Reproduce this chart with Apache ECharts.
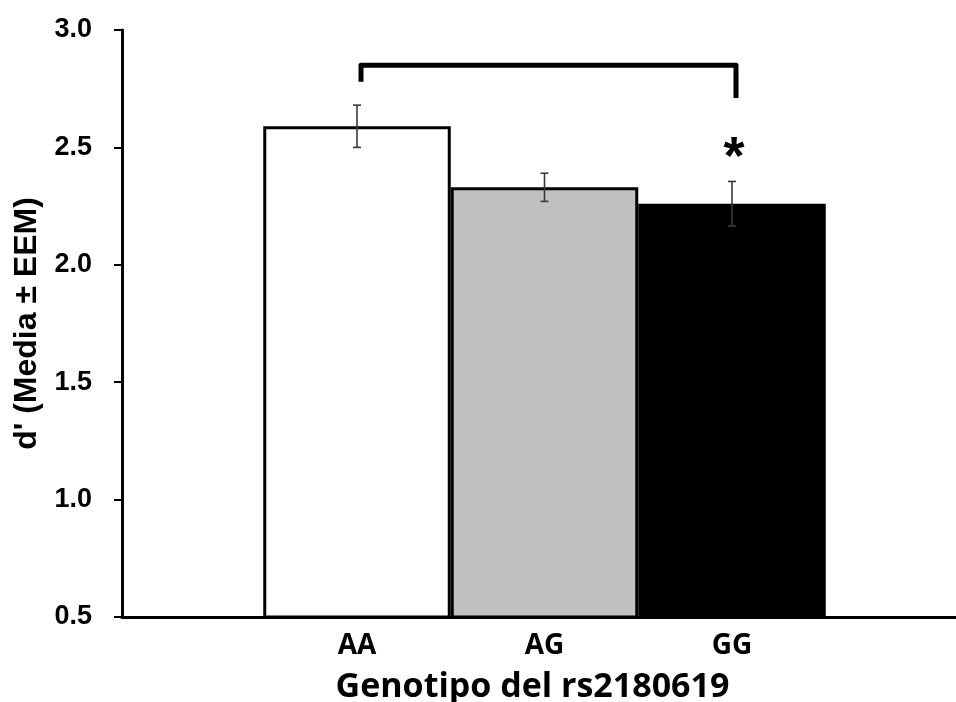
<!DOCTYPE html>
<html>
<head>
<meta charset="utf-8">
<script src="https://cdn.jsdelivr.net/npm/echarts@6/dist/echarts.min.js"></script>
<style>
  html, body { margin: 0; padding: 0; background: #fff; }
  #chart { width: 956px; height: 702px; }
</style>
</head>
<body>
<div id="chart"></div>
<script>
// ---- data ----
const categories = ['AA', 'AG', 'GG'];
const means = [2.59, 2.33, 2.26];
const errors = [0.09, 0.06, 0.095];
const barColors = ['#ffffff', '#c0c0c0', '#000000'];
const yTicks = { min: 0.5, max: 3.0, step: 0.5 };
const bracketCats = ['AA', 'GG'];
const bracketTop = 2.85;
const bracketLegEnds = [2.78, 2.71];
const starCat = 'GG';
const starValue = 2.45;
const yTitle = "d' (Media ± EEM)";
const xTitle = 'Genotipo del rs2180619';

const chart = echarts.init(document.getElementById('chart'), null, { renderer: 'canvas' });

const option = {
  animation: false,
  backgroundColor: '#ffffff',
  grid: [
    // frame grid (axes)
    { left: 122, right: 0, top: 30, bottom: 85, containLabel: false, outerBoundsMode: 'none' },
    // bars grid
    { left: 263.25, right: 130.25, top: 30, bottom: 85, containLabel: false, outerBoundsMode: 'none' }
  ],
  xAxis: [
    {
      gridIndex: 0, type: 'value', min: 0, max: 1,
      axisLine: { show: true, onZero: false, lineStyle: { color: '#000', width: 3 } },
      axisTick: { show: false }, axisLabel: { show: false }, splitLine: { show: false }
    },
    {
      gridIndex: 1, type: 'category', data: categories,
      axisLine: { show: false }, axisTick: { show: false },
      axisLabel: { margin: 15, color: '#000', fontFamily: 'Open Sans', fontWeight: 'bold', fontSize: 28 },
      name: xTitle, nameLocation: 'middle', nameGap: 53,
      nameTextStyle: { color: '#000', fontFamily: 'Open Sans', fontWeight: 'bold', fontSize: 34, padding: [0, 24, 0, 0] }
    }
  ],
  yAxis: [
    {
      gridIndex: 0, type: 'value', min: yTicks.min, max: yTicks.max, interval: yTicks.step,
      axisLine: { show: true, lineStyle: { color: '#000', width: 3 } },
      axisTick: { show: true, inside: false, length: 8, lineStyle: { color: '#000', width: 2 } },
      axisLabel: {
        margin: 30, color: '#000', fontFamily: 'Liberation Sans', fontWeight: 'bold', fontSize: 27,
        formatter: v => v.toFixed(1)
      },
      splitLine: { show: false },
      name: yTitle, nameLocation: 'middle', nameGap: 78, nameRotate: 90,
      nameTextStyle: { color: '#000', fontFamily: 'Liberation Sans', fontWeight: 'bold', fontSize: 32 }
    },
    {
      gridIndex: 1, type: 'value', min: yTicks.min, max: yTicks.max, interval: yTicks.step,
      show: false, splitLine: { show: false }
    }
  ],
  series: [
    {
      type: 'bar', xAxisIndex: 1, yAxisIndex: 1,
      barCategoryGap: '0%', barWidth: '100%',
      data: means.map((v, i) => ({
        value: v,
        itemStyle: { color: barColors[i], borderColor: '#000', borderWidth: 3 }
      })),
      z: 2
    },
    {
      type: 'custom', xAxisIndex: 1, yAxisIndex: 1, z: 5,
      data: means.map((v, i) => [i, v, errors[i]]),
      renderItem: function (params, api) {
        const x = api.value(0), m = api.value(1), e = api.value(2);
        const top = api.coord([x, m + e]);
        const bot = api.coord([x, m - e]);
        const cw = 4;
        const st = { stroke: '#3a3a3a', lineWidth: 1.6 };
        return {
          type: 'group',
          children: [
            { type: 'line', shape: { x1: top[0], y1: top[1], x2: bot[0], y2: bot[1] }, style: st },
            { type: 'line', shape: { x1: top[0] - cw, y1: top[1], x2: top[0] + cw, y2: top[1] }, style: st },
            { type: 'line', shape: { x1: bot[0] - cw, y1: bot[1], x2: bot[0] + cw, y2: bot[1] }, style: st }
          ]
        };
      }
    },
    {
      type: 'custom', xAxisIndex: 1, yAxisIndex: 1, z: 6,
      data: [[categories.indexOf(bracketCats[0]), categories.indexOf(bracketCats[1]), bracketTop, bracketLegEnds[0], bracketLegEnds[1]]],
      renderItem: function (params, api) {
        const a = api.value(0), b = api.value(1), t = api.value(2), l1 = api.value(3), l2 = api.value(4);
        const p1 = api.coord([a, l1]), p2 = api.coord([a, t]), p3 = api.coord([b, t]), p4 = api.coord([b, l2]);
        const dx = 4;
        return {
          type: 'polyline',
          shape: { points: [[p1[0] + dx, p1[1]], [p2[0] + dx, p2[1]], [p3[0] + dx, p3[1]], [p4[0] + dx, p4[1]]] },
          style: { stroke: '#000', lineWidth: 5, fill: null, lineJoin: 'round', lineCap: 'butt' }
        };
      }
    },
    {
      type: 'custom', xAxisIndex: 1, yAxisIndex: 1, z: 6,
      data: [[categories.indexOf(starCat), starValue]],
      renderItem: function (params, api) {
        const p = api.coord([api.value(0), api.value(1)]);
        return {
          type: 'text',
          x: p[0] + 2, y: p[1],
          style: {
            text: '*', fill: '#000', font: 'bold 54px "Liberation Sans"',
            align: 'center', verticalAlign: 'middle'
          }
        };
      }
    }
  ]
};
chart.setOption(option);
</script>
</body>
</html>
